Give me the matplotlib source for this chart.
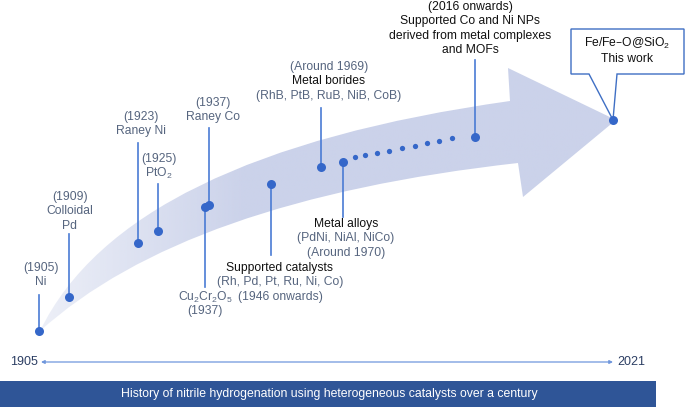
import numpy as np
import matplotlib
matplotlib.use('Agg')
import matplotlib.pyplot as plt
from matplotlib.path import Path
from matplotlib.patches import PathPatch, Polygon, Rectangle

plt.rcParams['font.family'] = ['Liberation Sans', 'DejaVu Sans']
plt.rcParams['mathtext.default'] = 'regular'

# milestones on the big arrow (diagram coordinates, y grows downwards)
dot_x = [39, 69, 138, 158, 205, 209, 271, 321, 343, 475, 613]
dot_y = [331, 297, 243, 231, 207, 205, 184, 167, 162, 137, 120]
stem_end = [295, 234, 143, 184, 287, 128, 255, 108, 217, 60, None]

# small dots between 1970 and 2016
trail_x = [355, 365, 377, 389, 402, 415, 427, 439, 452]
trail_y = [157, 155, 153, 151, 148, 146, 143, 141, 138]

# label blocks: centre x, first line y, lines, colour per line
GREY = '#56657f'
BLACK = '#111111'
label_x = [41, 70, 141, 159, 213, 205, 280, 329, 346, 470]
label_y = [268, 197, 117, 159, 103, 297, 268, 67, 224, 7]
label_lines = [
    ['(1905)', 'Ni'],
    ['(1909)', 'Colloidal', 'Pd'],
    ['(1923)', 'Raney Ni'],
    ['(1925)', r'PtO$_2$'],
    ['(1937)', 'Raney Co'],
    [r'Cu$_2$Cr$_2$O$_5$', '(1937)'],
    ['Supported catalysts', '(Rh, Pd, Pt, Ru, Ni, Co)', '(1946 onwards)'],
    ['(Around 1969)', 'Metal borides', '(RhB, PtB, RuB, NiB, CoB)'],
    ['Metal alloys', '(PdNi, NiAl, NiCo)', '(Around 1970)'],
    ['(2016 onwards)', 'Supported Co and Ni NPs', 'derived from metal complexes', 'and MOFs'],
]
label_cols = [
    [GREY, GREY],
    [GREY, GREY, GREY],
    [GREY, GREY],
    [GREY, GREY],
    [GREY, GREY],
    [GREY, GREY],
    [BLACK, GREY, GREY],
    [GREY, BLACK, GREY],
    [BLACK, GREY, GREY],
    [BLACK, BLACK, BLACK, BLACK],
]
this_work = [r'Fe/Fe–O@SiO$_2$', 'This work']
years = ['1905', '2021']
caption = 'History of nitrile hydrogenation using heterogeneous catalysts over a century'

fig = plt.figure(figsize=(6.85, 4.07), dpi=100)
ax = fig.add_axes([0, 0, 1, 1])

# curved arrow band
verts = [(40, 331), (125, 155), (510, 101),
         (508, 68), (616, 120), (523, 197), (518, 163),
         (185, 200), (40, 331)]
codes = [Path.MOVETO, Path.CURVE3, Path.CURVE3,
         Path.LINETO, Path.LINETO, Path.LINETO, Path.LINETO,
         Path.CURVE3, Path.CURVE3]
band = PathPatch(Path(verts, codes), facecolor='none', edgecolor='none')
ax.add_patch(band)
grad = np.ones((2, 300, 4))
grad[..., 0] = 203 / 255
grad[..., 1] = 210 / 255
grad[..., 2] = 234 / 255
grad[..., 3] = np.clip(np.linspace(0.35, 2.2, 300), 0, 1)
img = ax.imshow(grad, extent=(40, 620, 340, 60), aspect='auto', zorder=1)
img.set_clip_path(band)
ax.set_xlim(0, 685)
ax.set_ylim(407, 0)
ax.axis('off')

line_col = '#4a7bd4'
dot_col = '#3567c9'
for x, y, e in zip(dot_x, dot_y, stem_end):
    if e is not None:
        ax.plot([x, x], [e, y], color=line_col, lw=1.2, zorder=2)
ax.plot(dot_x, dot_y, 'o', color=dot_col, ms=6.5, mec='none', zorder=3)
ax.plot(trail_x, trail_y, 'o', color=dot_col, ms=3.8, mec='none', zorder=3)

for x, y0, lines, cols in zip(label_x, label_y, label_lines, label_cols):
    for i, (t, c) in enumerate(zip(lines, cols)):
        ax.text(x, y0 + i * 14.4, t, ha='center', va='center', fontsize=8.7, color=c)

# callout box for this work
box = Polygon([(571, 29), (684, 29), (684, 74), (617, 74), (613, 120),
               (589, 74), (571, 74)], closed=True, facecolor='white',
              edgecolor='#3f6fc4', lw=1, zorder=2)
ax.add_patch(box)
ax.text(627, 43, this_work[0], ha='center', va='center', fontsize=8.7, color=BLACK, zorder=4)
ax.text(627, 59, this_work[1], ha='center', va='center', fontsize=8.7, color=BLACK, zorder=4)

# timeline
ax.annotate('', xy=(613, 362), xytext=(41, 362),
            arrowprops=dict(arrowstyle='<|-|>', color='#6f96dc', lw=0.9,
                            mutation_scale=5, shrinkA=0, shrinkB=0))
ax.text(38, 362, years[0], ha='right', va='center', fontsize=9, color='#2c3e63')
ax.text(617, 362, years[1], ha='left', va='center', fontsize=9, color='#2c3e63')

# caption bar
ax.add_patch(Rectangle((0, 381), 656, 26, facecolor='#2f5597', edgecolor='none'))
ax.text(329, 394, caption, ha='center', va='center', fontsize=8.8, color='white')

fig.savefig('out.png', dpi=100)
